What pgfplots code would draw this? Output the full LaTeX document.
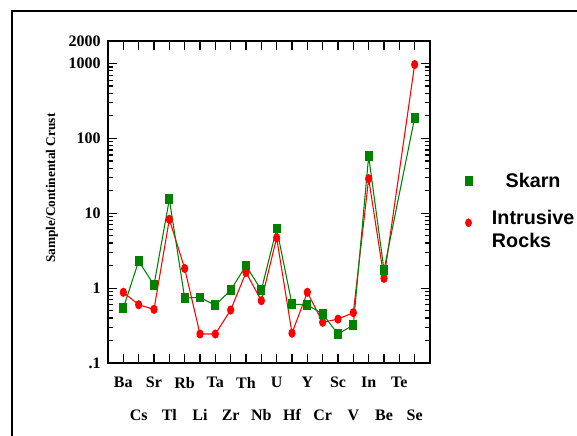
\documentclass[border=0pt]{standalone}
\usepackage{fontspec}
\setmainfont{Liberation Serif}
\newfontfamily\legfont{Liberation Sans}
\usepackage{pgfplots}
\pgfplotsset{compat=1.18}

\definecolor{skarn}{RGB}{0,130,0}
\definecolor{intr}{RGB}{255,0,0}

\begin{document}
\begin{tikzpicture}
\useasboundingbox (-81pt,-54pt) rectangle (351.75pt,272.25pt);
\begin{axis}[
  at={(0,0)}, anchor=south west,
  scale only axis, width=241.5pt, height=241.5pt,
  ymode=log, ymin=0.1, ymax=2000,
  xmin=-1, xmax=20,
  axis line style={line width=1pt},
  tick style={line width=0.9pt, black},
  tick align=inside, tick pos=both,
  major tick length=6.5pt, minor tick length=3.5pt,
  ytick={0.1,1,10,100,1000,2000},
  yticklabels={.1,1,10,100,1000,2000},
  minor ytick={0.2,0.3,0.4,0.5,0.6,0.7,0.8,0.9,2,3,4,5,6,7,8,9,20,30,40,50,60,70,80,90,200,300,400,500,600,700,800,900},
  yticklabel style={font=\bfseries\fontsize{12}{14}\selectfont, xshift=-2pt},
  xtick={0,2,...,18},
  xticklabels={Ba,Sr,Rb,Ta,Th,U,Y,Sc,In,Te},
  extra x ticks={1,3,...,19},
  extra x tick labels={Cs,Tl,Li,Zr,Nb,Hf,Cr,V,Be,Se},
  extra x tick style={xticklabel style={yshift=-24.5pt}},
  xticklabel style={font=\bfseries\fontsize{12}{14}\selectfont, yshift=-7pt},
  ylabel={Sample/Continental Crust},
  ylabel style={font=\bfseries\fontsize{10}{12}\selectfont,
    at={(axis description cs:-0.174,0.543)}, anchor=center},
  legend style={at={(axis description cs:1.108,0.60)}, anchor=north west,
    draw=none, fill=none, inner sep=0pt,
    font=\legfont\bfseries\fontsize{14.8}{17.5}\selectfont,
    row sep=10pt, /tikz/every odd column/.append style={column sep=13pt}},
  legend cell align=center,
  legend image code/.code={\draw[#1, draw=none] plot coordinates {(0.3cm,0cm)};},
]
\addplot[intr, line width=0.8pt, mark=*, mark size=2.3pt,
  mark options={yscale=1.3, intr}, forget plot] coordinates {
  (0,0.88)(1,0.6)(2,0.52)(3,8.3)(4,1.83)(5,0.244)(6,0.244)(7,0.51)
  (8,1.62)(9,0.68)(10,4.7)(11,0.25)(12,0.88)(13,0.35)(14,0.386)
  (15,0.47)(16,29)(17,1.35)(19,970)
};
\addplot[skarn, line width=0.8pt, mark=square*, mark size=2.6pt,
  mark options={yscale=1.25, skarn}] coordinates {
  (0,0.54)(1,2.3)(2,1.1)(3,15.4)(4,0.74)(5,0.75)(6,0.59)(7,0.94)
  (8,2.0)(9,0.94)(10,6.25)(11,0.61)(12,0.6)(13,0.45)(14,0.244)
  (15,0.32)(16,58)(17,1.75)(19,189)
};
\addlegendentry{Skarn}
\addlegendimage{intr, mark=*, mark size=2.3pt, mark options={yscale=1.3, intr}}
\addlegendentry{\begin{tabular}{@{}l@{}}Intrusive\\Rocks\end{tabular}}
\end{axis}
\draw[line width=0.9pt] (-72pt,-60pt) -- (-72pt,264pt) -- (360pt,264pt);
\end{tikzpicture}
\end{document}
